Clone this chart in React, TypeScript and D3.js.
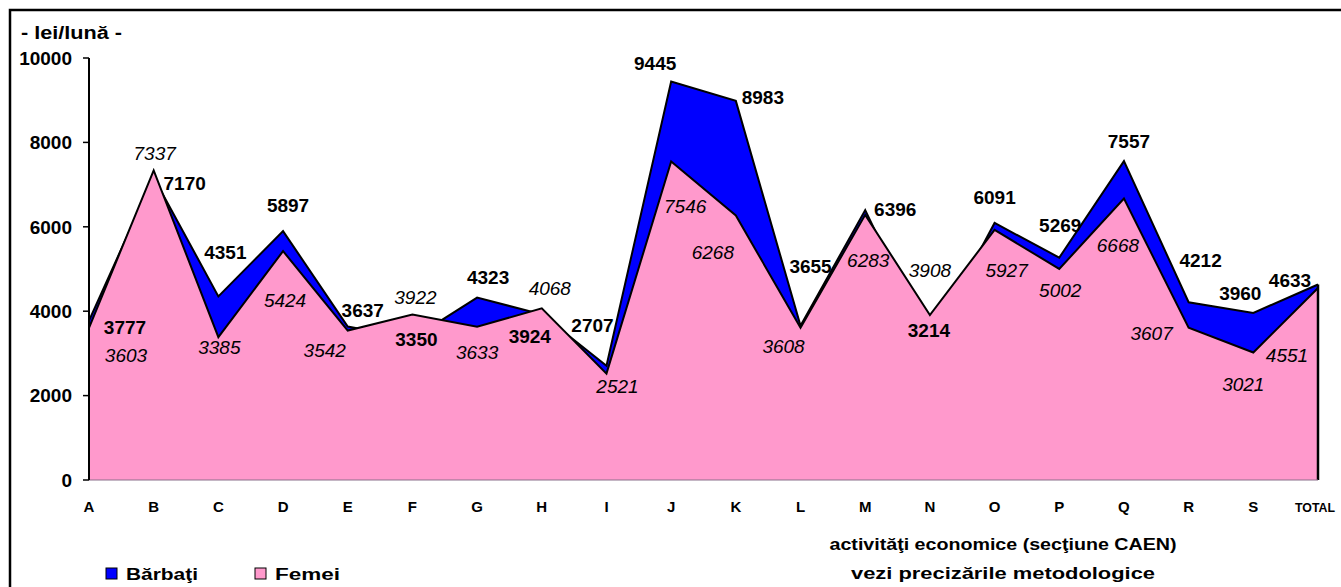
import { useMemo } from "react";
import { area, line, scaleLinear, scalePoint } from "d3";

const W = 1341;
const H = 587;
const M = { top: 58, left: 89, right: 1318, bottom: 480 };

const categories = ["A", "B", "C", "D", "E", "F", "G", "H", "I", "J", "K", "L", "M", "N", "O", "P", "Q", "R", "S", "TOTAL"];
const barbati = [3777, 7170, 4351, 5897, 3637, 3350, 4323, 3924, 2707, 9445, 8983, 3655, 6396, 3214, 6091, 5269, 7557, 4212, 3960, 4633];
const femei = [3603, 7337, 3385, 5424, 3542, 3922, 3633, 4068, 2521, 7546, 6268, 3608, 6283, 3908, 5927, 5002, 6668, 3607, 3021, 4551];
const yTicks = [0, 2000, 4000, 6000, 8000, 10000];

// label nudges (px from the point) — hand placed like in the source sheet
const barbatiNudge: [number, number][] = [
  [36, 7], [31, 6], [7, -44], [5, -26], [15, -16], [4, 1], [11, -20], [-12, 22], [-14, -41], [-16, -18],
  [27, -4], [10, -60], [30, -1], [-1, -14], [0, -26], [1, -32], [5, -20], [12, -42], [-13, -20], [-28, -4],
];
const femeiNudge: [number, number][] = [
  [37, 27], [1, -17], [1, 10], [2, 49], [-23, 20], [3, -17], [0, 25], [8, -20], [11, 13], [14, 45],
  [-23, 37], [-17, 18], [3, 45], [0, -45], [12, 40], [1, 21], [-6, 47], [-37, 5], [-10, 32], [-31, 67],
];

const FONT = "Arial, 'Liberation Sans', sans-serif";
const BLUE = "#0000FF";
const PINK = "#FF99CC";

export default function App() {
  const x = useMemo(() => scalePoint<string>().domain(categories).range([M.left, M.right]).padding(0), []);
  const y = useMemo(() => scaleLinear().domain([0, 10000]).range([M.bottom, M.top]), []);

  const fill = area<number>()
    .x((_, i) => x(categories[i]) ?? 0)
    .y0(y(0))
    .y1((d) => y(d));
  const top = line<number>()
    .x((_, i) => x(categories[i]) ?? 0)
    .y((d) => y(d));

  const xEnd = x("TOTAL") ?? M.right;

  return (
    <svg
      width={W}
      height={H}
      style={{ position: "absolute", left: 0, top: 0, background: "#fff" }}
      fontFamily={FONT}
    >
      <rect x={10} y={10} width={1340} height={600} fill="none" stroke="#000" strokeWidth={2.5} />

      <text x={21} y={39} fontSize={18} fontWeight="bold" textLength={101} lengthAdjust="spacingAndGlyphs">
        - lei/lună -
      </text>

      {/* areas: men behind, women in front */}
      <path d={fill(barbati) ?? undefined} fill={BLUE} />
      <path d={top(barbati) ?? undefined} fill="none" stroke="#000" strokeWidth={2} strokeLinejoin="miter" />
      <path d={fill(femei) ?? undefined} fill={PINK} />
      <path d={top(femei) ?? undefined} fill="none" stroke="#000" strokeWidth={2} strokeLinejoin="miter" />
      <line x1={xEnd} x2={xEnd} y1={y(Math.max(barbati[19], femei[19]))} y2={y(0)} stroke="#000" strokeWidth={2.5} />
      <line x1={M.left} x2={xEnd} y1={y(0)} y2={y(0)} stroke="#8a6f8a" strokeWidth={1} />

      {/* y axis */}
      <line x1={M.left} x2={M.left} y1={y(10000)} y2={y(0)} stroke="#000" strokeWidth={2} />
      {yTicks.map((t) => (
        <g key={t}>
          <line x1={M.left - 6} x2={M.left} y1={y(t)} y2={y(t)} stroke="#000" strokeWidth={1.5} />
          <text x={72} y={y(t)} dy="0.36em" textAnchor="end" fontSize={19} fontWeight="bold">
            {t}
          </text>
        </g>
      ))}

      {/* categories */}
      {categories.map((c) => (
        <text key={c} x={c === "TOTAL" ? (x(c) ?? 0) - 3 : x(c)} y={507} dy="0.36em" textAnchor="middle"
          fontSize={c === "TOTAL" ? 13 : 15} fontWeight="bold"
          {...(c === "TOTAL" ? { textLength: 40, lengthAdjust: "spacingAndGlyphs" } : {})}>
          {c}
        </text>
      ))}

      {/* value labels */}
      {barbati.map((v, i) => (
        <text key={"b" + i} x={(x(categories[i]) ?? 0) + barbatiNudge[i][0]} y={y(v) + barbatiNudge[i][1]}
          dy="0.36em" textAnchor="middle" fontSize={19} fontWeight="bold">
          {v}
        </text>
      ))}
      {femei.map((v, i) => (
        <text key={"f" + i} x={(x(categories[i]) ?? 0) + femeiNudge[i][0]} y={y(v) + femeiNudge[i][1]}
          dy="0.36em" textAnchor="middle" fontSize={19} fontStyle="italic">
          {v}
        </text>
      ))}

      {/* axis title */}
      <text x={1003} y={544} dy="0.36em" textAnchor="middle" fontSize={16} fontWeight="bold"
        textLength={347} lengthAdjust="spacingAndGlyphs">
        activităţi economice (secţiune CAEN)
      </text>
      <text x={1003} y={573} dy="0.36em" textAnchor="middle" fontSize={16} fontWeight="bold"
        textLength={304} lengthAdjust="spacingAndGlyphs">
        vezi precizările metodologice
      </text>

      {/* legend */}
      <rect x={106} y={568} width={11} height={11} fill={BLUE} stroke="#000" strokeWidth={1} />
      <text x={126} y={574} dy="0.36em" fontSize={16} fontWeight="bold" textLength={72} lengthAdjust="spacingAndGlyphs">
        Bărbaţi
      </text>
      <rect x={255} y={568} width={11} height={11} fill={PINK} stroke="#000" strokeWidth={1} />
      <text x={275} y={574} dy="0.36em" fontSize={16} fontWeight="bold" textLength={65} lengthAdjust="spacingAndGlyphs">
        Femei
      </text>
    </svg>
  );
}
